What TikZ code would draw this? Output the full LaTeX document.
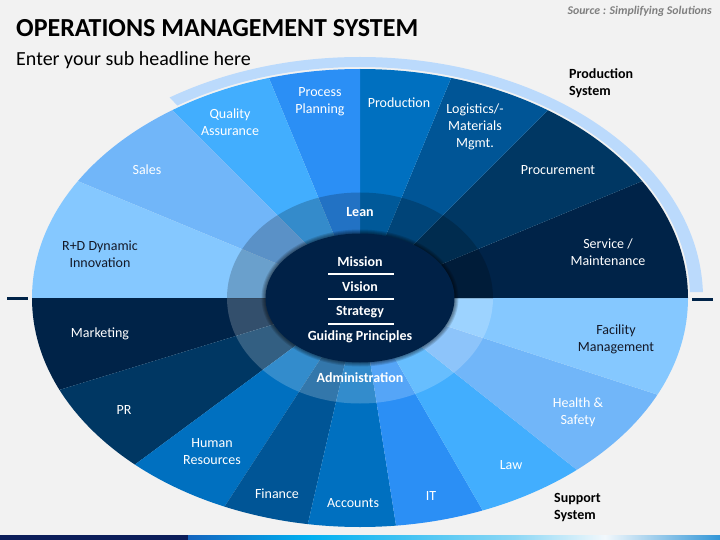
\documentclass[tikz,border=0pt]{standalone}
\usepackage{fontspec}
\setmainfont{Carlito}
\definecolor{bg}{RGB}{242,242,242}
\definecolor{cA}{RGB}{133,200,255}
\definecolor{cB}{RGB}{113,182,249}
\definecolor{cC}{RGB}{66,174,254}
\definecolor{cD}{RGB}{43,143,245}
\definecolor{cE}{RGB}{0,112,192}
\definecolor{cF}{RGB}{0,85,150}
\definecolor{cG}{RGB}{0,55,99}
\definecolor{cH}{RGB}{0,35,72}
\definecolor{core}{RGB}{0,33,71}
\definecolor{bandc}{RGB}{187,218,252}
\definecolor{darktxt}{RGB}{20,25,40}
\definecolor{srcgray}{RGB}{127,127,127}
\definecolor{barnavy}{RGB}{12,30,90}
\definecolor{barA}{RGB}{20,100,190}
\definecolor{barB}{RGB}{0,176,240}
\definecolor{barC}{RGB}{140,215,245}
\definecolor{barD}{RGB}{242,248,252}
\definecolor{barE}{RGB}{50,150,215}
\begin{document}
\begin{tikzpicture}[x=1pt,y=-1pt,
  lbl/.style={inner sep=0pt,align=center,text=white,font=\fontsize{14}{17}\selectfont},
  dlbl/.style={lbl,text=darktxt},
  blbl/.style={lbl,font=\fontsize{14}{17}\selectfont\bfseries},
  sys/.style={inner sep=0pt,align=left,text=black,font=\fontsize{14}{17}\selectfont\bfseries},
  sidemark/.style={draw=cH,line width=3pt}]
\useasboundingbox (0,0) rectangle (720,540);
\fill[bg] (0,0) rectangle (720,540);
% band (production system)
\begin{scope}[shift={(360,298)}]
  \clip (0,0) -- (-1:900) -- (-90:900) -- (-133.5:900) -- cycle;
  \fill[bandc,even odd rule] (0,0) ellipse [x radius=343,y radius=241] (0,0) ellipse [x radius=330,y radius=231];
\end{scope}
% segments
\begin{scope}[shift={(360,298)}]
  \clip (0,0) ellipse [x radius=328,y radius=229];
  \foreach \a/\b/\c in {0/22.5/cH,22.5/45/cG,45/67.5/cF,67.5/90/cE,90/112.5/cD,112.5/135/cC,135/157.5/cB,157.5/180/cA}
    \fill[\c] (0,0) -- (-\a:700) -- (-\b:700) -- cycle;
  \foreach \a/\b/\c in {180/163/cH,163/143.5/cG,143.5/123/cE,123/103/cF,103/81/cE,81/60/cD,60/38.4/cC,38.4/18/cB,18/0/cA}
    \fill[\c] (0,0) -- (\a:700) -- (\b:700) -- cycle;
\end{scope}
% translucent ring
\begin{scope}[shift={(360,298)}]
  \begin{scope}
    \clip (-400,-400) rectangle (400,0);
    \fill[black,fill opacity=0.2] (0,0) ellipse [x radius=133,y radius=105.5];
  \end{scope}
  \begin{scope}
    \clip (-400,0) rectangle (400,400);
    \fill[white,fill opacity=0.2] (0,0) ellipse [x radius=133,y radius=105.5];
  \end{scope}
  % soft shadow
  \foreach \r in {4,3,2,1}
    \fill[black,fill opacity=0.12] (0,0) ellipse [x radius=94.5+\r,y radius=64.5+\r];
  \fill[core] (0,0) ellipse [x radius=94.5,y radius=64.5];
\end{scope}
% centre lines
\coordinate (l1a) at (328,274); \coordinate (l1b) at (394,274);
\coordinate (l2a) at (328,299); \coordinate (l2b) at (394,299);
\coordinate (l3a) at (328,324); \coordinate (l3b) at (394,324);
\draw[white,line width=1.5pt] (l1a) -- (l1b);
\draw[white,line width=1.5pt] (l2a) -- (l2b);
\draw[white,line width=1.5pt] (l3a) -- (l3b);
\node[blbl] (mission) at (360,262) {Mission};
\node[blbl] (vision) at (360,287) {Vision};
\node[blbl] (strategy) at (360,312) {Strategy};
\node[blbl] (guiding) at (360,337) {Guiding Principles};
\node[blbl] (lean) at (360,212) {Lean};
\node[blbl] (admin) at (360,378) {Administration};
% segment labels
\node[dlbl] (rd) at (100,254) {R+D Dynamic\\Innovation};
\node[lbl] (sales) at (147,170) {Sales};
\node[lbl] (qa) at (230,122) {Quality\\Assurance};
\node[lbl] (pp) at (320,102) {Process\\Planning};
\node[lbl] (prod) at (399,103) {Production};
\node[lbl] (log) at (475,127) {Logistics/-\\Materials\\Mgmt.};
\node[lbl] (proc) at (558,170) {Procurement};
\node[lbl] (serv) at (608,252) {Service /\\Maintenance};
\node[lbl] (mkt) at (100,334) {Marketing};
\node[lbl] (pr) at (124,410) {PR};
\node[lbl] (hr) at (212,452) {Human\\Resources};
\node[lbl] (fin) at (277,494) {Finance};
\node[lbl] (acc) at (353,503) {Accounts};
\node[lbl] (it) at (431,496) {IT};
\node[lbl] (law) at (511,465) {Law};
\node[lbl] (hs) at (578,412) {Health \&\\Safety};
\node[dlbl] (fm) at (616,339) {Facility\\Management};
% system labels
\node[sys,anchor=base west] (psys) at (569,96) {Production\\System};
\node[sys,anchor=base west] (ssys) at (554,519) {Support\\System};
% side marks
\coordinate (dl1) at (7,298); \coordinate (dl2) at (28,298);
\coordinate (dr1) at (692,299); \coordinate (dr2) at (713,299);
\draw[sidemark] (dl1) -- (dl2);
\draw[sidemark] (dr1) -- (dr2);
% titles
\node[inner sep=0pt,anchor=base west,font=\fontsize{26}{30}\selectfont\bfseries] (title) at (16,36.5) {OPERATIONS MANAGEMENT SYSTEM};
\node[inner sep=0pt,anchor=base west,font=\fontsize{20}{24}\selectfont] (sub) at (16,66) {Enter your sub headline here};
\node[inner sep=0pt,anchor=base east,text=srcgray,font=\fontsize{11.8}{14}\selectfont\bfseries\itshape] (src) at (712,15) {Source : Simplifying Solutions};
% bottom bar
\fill[barnavy] (0,535) rectangle (188,540);
\shade[left color=barA,right color=barB] (188,535) rectangle (308,540);
\shade[left color=barB,right color=barC] (308,535) rectangle (514,540);
\shade[left color=barC,right color=barD] (514,535) rectangle (605,540);
\shade[left color=barD,right color=barE] (605,535) rectangle (720,540);
\end{tikzpicture}
\end{document}
